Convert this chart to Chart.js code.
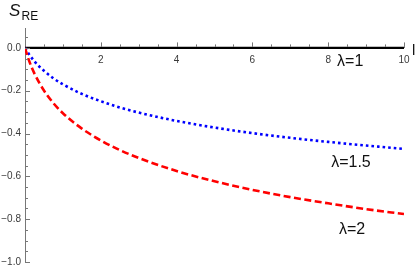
<!DOCTYPE html>
<html>
<head>
<meta charset="utf-8">
<script src="https://cdn.jsdelivr.net/npm/chart.js@4"></script>
<style>
html,body{margin:0;padding:0;background:#fff;}
canvas{display:block;}
</style>
</head>
<body>
<canvas id="c" width="417" height="265"></canvas>
<script>
// ---- data ----
const lValues = [0, 0.1, 0.25, 0.5, 0.75, 1, 1.5, 2, 2.5, 3, 4, 5, 6, 7, 8, 9, 10];
const sLambda1 = [0, 0, 0, 0, 0, 0, 0, 0, 0, 0, 0, 0, 0, 0, 0, 0, 0];
const sLambda15 = [0, -0.028, -0.063, -0.107, -0.142, -0.170, -0.215, -0.249, -0.278, -0.302, -0.341, -0.372, -0.398, -0.420, -0.439, -0.456, -0.472];
const sLambda2 = [0, -0.056, -0.120, -0.199, -0.258, -0.305, -0.377, -0.432, -0.477, -0.514, -0.575, -0.623, -0.663, -0.697, -0.726, -0.753, -0.776];
const xTickValues = [2, 4, 6, 8, 10];
const yTickValues = [0, -0.2, -0.4, -0.6, -0.8, -1.0];
const seriesLabels = ['λ=1', 'λ=1.5', 'λ=2'];
// label anchor positions in data units
const labelAnchors = [[8.58, -0.065], [8.6, -0.535], [8.63, -0.849]];

function pts(ys) { return lValues.map((x, i) => ({x: x, y: ys[i]})); }

const AXIS_COLOR = '#777';
const TEXT_COLOR = '#3a3a3a';

const decorPlugin = {
  id: 'decor',
  afterDatasetsDraw(chart) {
    const ctx = chart.ctx;
    const xs = chart.scales.x, ys = chart.scales.y;
    const y0 = ys.getPixelForValue(0);
    const x0 = xs.getPixelForValue(0);
    ctx.save();
    ctx.strokeStyle = AXIS_COLOR;
    ctx.lineWidth = 1;
    // x ticks (upward)
    for (let k = 1; k <= 20; k++) {
      const v = k * 0.5;
      const px = Math.round(xs.getPixelForValue(v)) + 0.5;
      const len = (k % 4 === 0) ? 4.5 : 2.5;
      ctx.beginPath();
      ctx.moveTo(px, y0 - 1);
      ctx.lineTo(px, y0 - 1 - len);
      ctx.stroke();
    }
    // y ticks (rightward)
    for (let k = -20; k <= 1; k++) {
      const v = k * 0.05;
      const py = Math.round(ys.getPixelForValue(v)) + 0.5;
      const len = (k % 4 === 0) ? 5 : 3;
      ctx.beginPath();
      ctx.moveTo(x0, py);
      ctx.lineTo(x0 + len, py);
      ctx.stroke();
    }
    // curve labels
    ctx.fillStyle = '#111';
    ctx.font = '16px "Liberation Sans", Arial, sans-serif';
    ctx.textAlign = 'center';
    ctx.textBaseline = 'middle';
    seriesLabels.forEach((t, i) => {
      ctx.fillText(t, xs.getPixelForValue(labelAnchors[i][0]), ys.getPixelForValue(labelAnchors[i][1]));
    });
    // axis labels
    ctx.textAlign = 'left';
    ctx.textBaseline = 'alphabetic';
    ctx.font = 'italic 17px "Liberation Sans", Arial, sans-serif';
    ctx.fillText('S', 9, 16);
    ctx.font = '12px "Liberation Sans", Arial, sans-serif';
    ctx.fillText('RE', 21.5, 19.5);
    ctx.font = '15px "Liberation Sans", Arial, sans-serif';
    ctx.fillText('l', 412, y0 + 7);
    ctx.restore();
  }
};

new Chart(document.getElementById('c'), {
  type: 'line',
  data: {
    datasets: [
      {label: seriesLabels[0], data: pts(sLambda1), borderColor: '#000', borderWidth: 2.2, pointRadius: 0, tension: 0, order: 3},
      {label: seriesLabels[1], data: pts(sLambda15), borderColor: '#0000ff', borderWidth: 2.6, borderDash: [2.6, 3], pointRadius: 0, cubicInterpolationMode: 'monotone', order: 2},
      {label: seriesLabels[2], data: pts(sLambda2), borderColor: '#ff0000', borderWidth: 2.6, borderDash: [7, 3.5], pointRadius: 0, cubicInterpolationMode: 'monotone', order: 1}
    ]
  },
  options: {
    responsive: false,
    animation: false,
    events: [],
    layout: {padding: {left: 0, right: 13, top: 28, bottom: 3}},
    plugins: {legend: {display: false}, tooltip: {enabled: false}},
    scales: {
      x: {
        type: 'linear',
        min: 0, max: 10,
        position: {y: 0},
        grid: {display: false, drawTicks: false},
        border: {display: true, color: AXIS_COLOR, width: 1},
        afterBuildTicks: (s) => { s.ticks = xTickValues.map(v => ({value: v})); },
        ticks: {
          color: TEXT_COLOR,
          padding: 6,
          font: {family: '"Liberation Sans", Arial, sans-serif', size: 10},
          maxRotation: 0,
          autoSkip: false,
          callback: (v) => String(v)
        }
      },
      y: {
        type: 'linear',
        min: -1.0, max: 0.093,
        position: 'left',
        grid: {display: false, drawTicks: false},
        border: {display: true, color: AXIS_COLOR, width: 1},
        afterBuildTicks: (s) => { s.ticks = yTickValues.map(v => ({value: v})); },
        afterFit: (s) => { s.width = 25; s.paddingTop = 0; s.paddingBottom = 0; },
        ticks: {
          color: TEXT_COLOR,
          padding: 4,
          font: {family: '"Liberation Sans", Arial, sans-serif', size: 10},
          autoSkip: false,
          callback: (v) => (v === 0 ? '0.0' : v.toFixed(1).replace('-', '\u2212'))
        }
      }
    }
  },
  plugins: [decorPlugin]
});
</script>
</body>
</html>
